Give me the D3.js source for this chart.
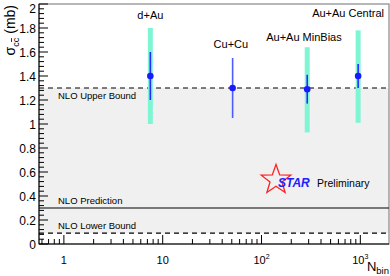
<!DOCTYPE html>
<html>

<head>
    <meta charset="UTF-8">
    <style>
        body { margin: 0; background: #fff; }
        text { font-family: "Liberation Sans", Arial, sans-serif; }
    </style>
</head>

<body>
    <svg></svg>
    <script src="https://d3js.org/d3.v7.min.js"></script>
    <script>
        let width = 390,
            height = 276;

        // data
        let systems = ["d+Au", "Cu+Cu", "Au+Au MinBias", "Au+Au Central"];
        let nbin = [7.5, 51, 290, 950];
        let sigma = [1.40, 1.30, 1.29, 1.40];
        let statLo = [1.20, 1.05, 1.17, 1.30];
        let statHi = [1.60, 1.55, 1.41, 1.50];
        let sysLo = [1.00, null, 0.93, 1.01];
        let sysHi = [1.80, null, 1.64, 1.78];
        let nloUpper = 1.3, nloPred = 0.3, nloLower = 0.09;
        let yTicks = [0, 0.2, 0.4, 0.6, 0.8, 1, 1.2, 1.4, 1.6, 1.8, 2];
        let xTicks = [1, 10, 100, 1000];

        let pLeft = 39, pRight = 389, pTop = 4, pBottom = 244;

        let svg = d3.select("svg")
            .attr("width", width)
            .attr("height", height);

        let x = d3.scaleLog().domain([0.56, 1950]).range([pLeft, pRight]);
        let y = d3.scaleLinear().domain([0, 2]).range([pBottom, pTop]);

        // shaded NLO band
        svg.append("rect")
            .attr("x", pLeft)
            .attr("y", y(nloUpper))
            .attr("width", pRight - pLeft)
            .attr("height", y(nloLower) - y(nloUpper))
            .attr("fill", "#f0f0f0");

        // frame
        svg.append("rect")
            .attr("x", pLeft)
            .attr("y", pTop)
            .attr("width", pRight - pLeft)
            .attr("height", pBottom - pTop)
            .attr("fill", "none")
            .attr("stroke", "#888")
            .attr("stroke-width", 1.2);

        // NLO lines
        let lines = [
            { v: nloUpper, dash: "5,4", label: "NLO Upper Bound", dy: 10.5 },
            { v: nloPred, dash: null, label: "NLO Prediction", dy: -4 },
            { v: nloLower, dash: "5,4", label: "NLO Lower Bound", dy: -4 }
        ];
        lines.forEach(l => {
            svg.append("line")
                .attr("x1", pLeft).attr("x2", pRight)
                .attr("y1", y(l.v)).attr("y2", y(l.v))
                .attr("stroke", "#000")
                .attr("stroke-width", 1.2)
                .attr("stroke-dasharray", l.dash);
            svg.append("text")
                .attr("x", 58)
                .attr("y", y(l.v) + l.dy)
                .attr("font-size", 9.5)
                .attr("fill", "#000")
                .text(l.label);
        });

        // axes lines
        svg.append("line")
            .attr("x1", pLeft).attr("x2", pLeft)
            .attr("y1", pTop).attr("y2", pBottom)
            .attr("stroke", "#000");
        svg.append("line")
            .attr("x1", pLeft).attr("x2", pRight)
            .attr("y1", pBottom).attr("y2", pBottom)
            .attr("stroke", "#000");

        // y ticks
        let yAxis = svg.append("g");
        d3.range(0, 2.0001, 0.04).forEach(v => {
            let major = Math.abs(v / 0.2 - Math.round(v / 0.2)) < 1e-6;
            yAxis.append("line")
                .attr("x1", pLeft).attr("x2", pLeft + (major ? 9 : 5))
                .attr("y1", y(v)).attr("y2", y(v))
                .attr("stroke", "#000");
        });
        yTicks.forEach(v => {
            yAxis.append("text")
                .attr("x", pLeft - 3)
                .attr("y", Math.max(y(v) + 4.5, 13))
                .attr("text-anchor", "end")
                .attr("font-size", 12)
                .text(d3.format("~g")(v));
        });

        // x ticks
        let xAxis = svg.append("g");
        [0.1, 1, 10, 100, 1000].forEach(dec => {
            for (let k = 1; k < 10; k++) {
                let v = dec * k;
                if (v < x.domain()[0] || v > x.domain()[1]) continue;
                xAxis.append("line")
                    .attr("x1", x(v)).attr("x2", x(v))
                    .attr("y1", pBottom).attr("y2", pBottom - (k === 1 ? 9 : 5))
                    .attr("stroke", "#000");
            }
        });
        xTicks.forEach(v => {
            let t = xAxis.append("text")
                .attr("x", x(v))
                .attr("y", pBottom + 20)
                .attr("text-anchor", "middle")
                .attr("font-size", 11);
            if (v < 100) {
                t.text(v);
            } else {
                t.text("10");
                t.append("tspan")
                    .attr("dy", -5)
                    .attr("font-size", 7)
                    .text(Math.round(Math.log10(v)));
            }
        });

        // y title: sigma_{c cbar} (mb), rotated, right end at top of frame
        let yg = svg.append("g");
        let parts = [
            { t: "\u03C3", size: 14, dy: 0, gap: 0 },
            { t: "cc", size: 9, dy: 4, gap: 0 },
            { t: "(mb)", size: 14, dy: 0, gap: 4 }
        ];
        let pos = 0, ccStart = 0, ccEnd = 0;
        parts.forEach(p => {
            pos += p.gap;
            let el = yg.append("text")
                .attr("x", pos)
                .attr("y", p.dy)
                .attr("font-size", p.size)
                .text(p.t);
            let w = el.node().getComputedTextLength();
            if (p.t === "cc") { ccStart = pos + w / 2; ccEnd = pos + w; }
            pos += w;
        });
        yg.append("line")
            .attr("x1", ccStart + 0.3).attr("x2", ccEnd - 0.3)
            .attr("y1", -3.5).attr("y2", -3.5)
            .attr("stroke", "#000")
            .attr("stroke-width", 0.8);
        yg.attr("transform", "translate(15," + (pTop + 1 + pos) + ") rotate(-90)");

        let xt = svg.append("text")
            .attr("x", pRight)
            .attr("y", 271)
            .attr("text-anchor", "end")
            .attr("font-size", 13);
        xt.append("tspan").text("N");
        xt.append("tspan").attr("dy", 3).attr("font-size", 9.5).text("bin");

        // data
        let data = systems.map((s, i) => ({
            name: s, n: nbin[i], v: sigma[i],
            lo: statLo[i], hi: statHi[i], slo: sysLo[i], shi: sysHi[i]
        }));

        svg.append("g").selectAll("rect")
            .data(data.filter(d => d.slo !== null))
            .enter()
            .append("rect")
            .attr("x", d => x(d.n) - 2.5)
            .attr("width", 5)
            .attr("y", d => y(d.shi))
            .attr("height", d => y(d.slo) - y(d.shi))
            .attr("fill", "#7ff5d4");

        svg.append("g").selectAll("line")
            .data(data)
            .enter()
            .append("line")
            .attr("x1", d => x(d.n)).attr("x2", d => x(d.n))
            .attr("y1", d => y(d.hi)).attr("y2", d => y(d.lo))
            .attr("stroke", (d, i) => i === 1 ? "#4d5cff" : "#2a2aff")
            .attr("stroke-width", 1.6);

        svg.append("g").selectAll("circle")
            .data(data)
            .enter()
            .append("circle")
            .attr("cx", d => x(d.n))
            .attr("cy", d => y(d.v))
            .attr("r", 3.3)
            .attr("fill", "#1a1aff");

        let labelPos = [
            { dx: -13, y: 19 },
            { dx: -19, y: 48 },
            { dx: -41, y: 41 },
            { dx: -46, y: 17 }
        ];
        svg.append("g").selectAll("text")
            .data(data)
            .enter()
            .append("text")
            .attr("x", (d, i) => x(d.n) + labelPos[i].dx)
            .attr("y", (d, i) => labelPos[i].y)
            .attr("font-size", 11)
            .text(d => d.name);

        // STAR preliminary
        let cx = 276, cy = 180, ro = 15.5, ri = 6.3;
        let pts = d3.range(10).map(k => {
            let a = -Math.PI / 2 + k * Math.PI / 5;
            let r = k % 2 ? ri : ro;
            return [cx + r * Math.cos(a), cy + r * Math.sin(a)];
        });
        svg.append("path")
            .attr("d", d3.line()(pts) + "Z")
            .attr("fill", "none")
            .attr("stroke", "#ff2020")
            .attr("stroke-width", 1.3);
        svg.append("text")
            .attr("x", 278)
            .attr("y", 187)
            .attr("font-size", 12)
            .attr("font-weight", "bold")
            .attr("font-style", "italic")
            .attr("fill", "#2020ff")
            .text("STAR");
        svg.append("text")
            .attr("x", 317)
            .attr("y", 187)
            .attr("font-size", 10.5)
            .text("Preliminary");
    </script>
</body>

</html>
